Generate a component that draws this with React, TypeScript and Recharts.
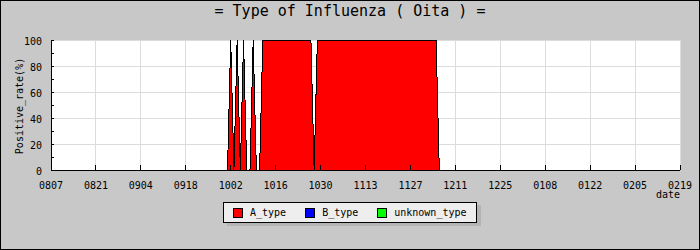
import React from 'react';
import { ComposedChart, Area, XAxis, YAxis, CartesianGrid } from 'recharts';

// day offsets counted from 0807
const days = [
  54, 55, 56, 57, 58, 59, 60, 61, 62, 63, 64, 65,
  66, 67, 68, 69, 70, 71, 72, 73, 74, 75, 76, 77, 78, 79, 80, 81,
  82,
  83, 84, 85, 86, 87, 88, 89, 90, 91, 92, 93, 94, 95, 96, 97, 98, 99, 100, 101,
  102, 103, 104, 105, 106, 107, 108, 109, 110, 111, 112, 113, 114, 115, 116, 117, 118, 119, 120,
  121, 122,
];

const aType = [
  0, 0, 100, 0, 100, 0, 100, 0, 0, 100, 0, 0,
  100, 100, 100, 100, 100, 100, 100, 100, 100, 100, 100, 100, 100, 100, 100, 100,
  0,
  100, 100, 100, 100, 100, 100, 100, 100, 100, 100, 100, 100, 100, 100, 100, 100, 100, 100, 100,
  100, 100, 100, 100, 100, 100, 100, 100, 100, 100, 100, 100, 100, 100, 100, 100, 100, 100, 100,
  0, 0,
];

const bType = [
  0, 0, 0, 0, 0, 0, 0, 0, 0, 0, 0, 0,
  0, 0, 0, 0, 0, 0, 0, 0, 0, 0, 0, 0, 0, 0, 0, 0,
  0,
  0, 0, 0, 0, 0, 0, 0, 0, 0, 0, 0, 0, 0, 0, 0, 0, 0, 0, 0,
  0, 0, 0, 0, 0, 0, 0, 0, 0, 0, 0, 0, 0, 0, 0, 0, 0, 0, 0,
  0, 0,
];

const unknownType = [
  0, 0, 0, 0, 0, 0, 0, 0, 0, 0, 0, 0,
  0, 0, 0, 0, 0, 0, 0, 0, 0, 0, 0, 0, 0, 0, 0, 0,
  0,
  0, 0, 0, 0, 0, 0, 0, 0, 0, 0, 0, 0, 0, 0, 0, 0, 0, 0, 0,
  0, 0, 0, 0, 0, 0, 0, 0, 0, 0, 0, 0, 0, 0, 0, 0, 0, 0, 0,
  0, 0,
];

const tickDays = [0, 14, 28, 42, 56, 70, 84, 98, 112, 126, 140, 154, 168, 182, 196];
const tickLabels = ['0807', '0821', '0904', '0918', '1002', '1016', '1030', '1113', '1127', '1211', '1225', '0108', '0122', '0205', '0219'];
const yTicks = [0, 10, 20, 30, 40, 50, 60, 70, 80, 90, 100];
const yGrid = [20, 40, 60, 80, 100];

const series = [
  { key: 'A_type', name: 'A_type', color: '#ff0000' },
  { key: 'B_type', name: 'B_type', color: '#0000ff' },
  { key: 'unknown_type', name: 'unknown_type', color: '#00ff00' },
];

const data = days.map((d, i) => ({
  day: d,
  A_type: aType[i],
  B_type: bType[i],
  unknown_type: unknownType[i],
}));

const FONT = '"DejaVu Sans Mono", "Liberation Mono", monospace';

const XTick = (props: any) => {
  const { x, y, payload } = props;
  const idx = tickDays.indexOf(payload.value);
  return (
    <g>
      <line x1={x} x2={x} y1={y} y2={y - 5} stroke="#000" />
      <text x={x} y={y + 19} textAnchor="middle" fontFamily={FONT} fontSize={10} fill="#000">
        {tickLabels[idx]}
      </text>
    </g>
  );
};

const YTick = (props: any) => {
  const { x, y, payload } = props;
  const v = payload.value;
  return (
    <g>
      <line x1={x} x2={x + 3} y1={y} y2={y} stroke="#000" />
      {v % 20 === 0 ? (
        <text x={x - 9} y={y + 4.5} textAnchor="end" fontFamily={FONT} fontSize={10} fill="#000">
          {v}
        </text>
      ) : null}
    </g>
  );
};

const YLabel = () => (
  <text
    x={22.5}
    y={106}
    transform="rotate(-90, 22.5, 106)"
    textAnchor="middle"
    fontFamily={FONT}
    fontSize={10}
    fill="#000"
  >
    Positive_rate(%)
  </text>
);

const XLabel = () => (
  <text x={680} y={198} textAnchor="end" fontFamily={FONT} fontSize={10} fill="#000">
    date
  </text>
);

export default function App() {
  return (
    <div
      style={{
        position: 'fixed',
        left: 0,
        top: 0,
        width: 700,
        height: 250,
        background: '#c8c8c8',
      }}
    >
      <style>{'.recharts-surface path, .recharts-surface line, .recharts-surface rect { shape-rendering: crispEdges; }'}</style>
      <ComposedChart
        width={700}
        height={250}
        data={data}
        margin={{ top: 40, right: 20, bottom: 50, left: 0 }}
      >
        <CartesianGrid
          fill="#ffffff"
          stroke="#dcdcdc"
          horizontalValues={yGrid}
          verticalValues={tickDays}
        />
        {series.map((s) => (
          <Area
            key={s.key}
            type="linear"
            dataKey={s.key}
            name={s.name}
            stackId="1"
            stroke="#000000"
            strokeWidth={1}
            fill={s.color}
            fillOpacity={1}
            dot={false}
            activeDot={false}
            isAnimationActive={false}
          />
        ))}
        <XAxis
          type="number"
          dataKey="day"
          domain={[0, 196]}
          ticks={tickDays}
          interval={0}
          height={30}
          tickSize={0}
          tickMargin={0}
          tickLine={false}
          axisLine={{ stroke: '#000' }}
          tick={<XTick />}
          label={<XLabel />}
        />
        <YAxis
          type="number"
          domain={[0, 100]}
          ticks={yTicks}
          interval={0}
          width={51}
          tickSize={0}
          tickMargin={0}
          tickLine={false}
          axisLine={{ stroke: '#000' }}
          tick={<YTick />}
          label={<YLabel />}
        />
      </ComposedChart>
      <div
        style={{
          position: 'absolute',
          left: 0,
          top: 3,
          width: 700,
          textAlign: 'center',
          fontFamily: FONT,
          fontSize: 15,
          fontWeight: 'normal',
          lineHeight: '17px',
          color: '#000',
          whiteSpace: 'pre',
        }}
      >
        = Type of Influenza ( Oita ) =
      </div>
      <div
        style={{
          position: 'absolute',
          left: 223,
          top: 202,
          width: 254,
          height: 21,
          boxSizing: 'border-box',
          border: '1px solid #000',
          background: '#eeeeee',
          boxShadow: '4px 3px 0 #b4b4b4',
          display: 'flex',
          alignItems: 'center',
          paddingLeft: 9,
          fontFamily: FONT,
          fontSize: 10,
          color: '#000',
        }}
      >
        {series.map((s) => (
          <div key={s.key} style={{ display: 'flex', alignItems: 'center', marginRight: 19 }}>
            <div
              style={{
                width: 10,
                height: 10,
                boxSizing: 'border-box',
                border: '1px solid #000',
                background: s.color,
                marginRight: 7,
              }}
            />
            <span style={{ whiteSpace: 'pre' }}>{s.name}</span>
          </div>
        ))}
      </div>
      <div
        style={{
          position: 'absolute',
          left: 0,
          top: 0,
          width: 700,
          height: 250,
          boxSizing: 'border-box',
          border: '1px solid #000',
          pointerEvents: 'none',
        }}
      />
    </div>
  );
}
